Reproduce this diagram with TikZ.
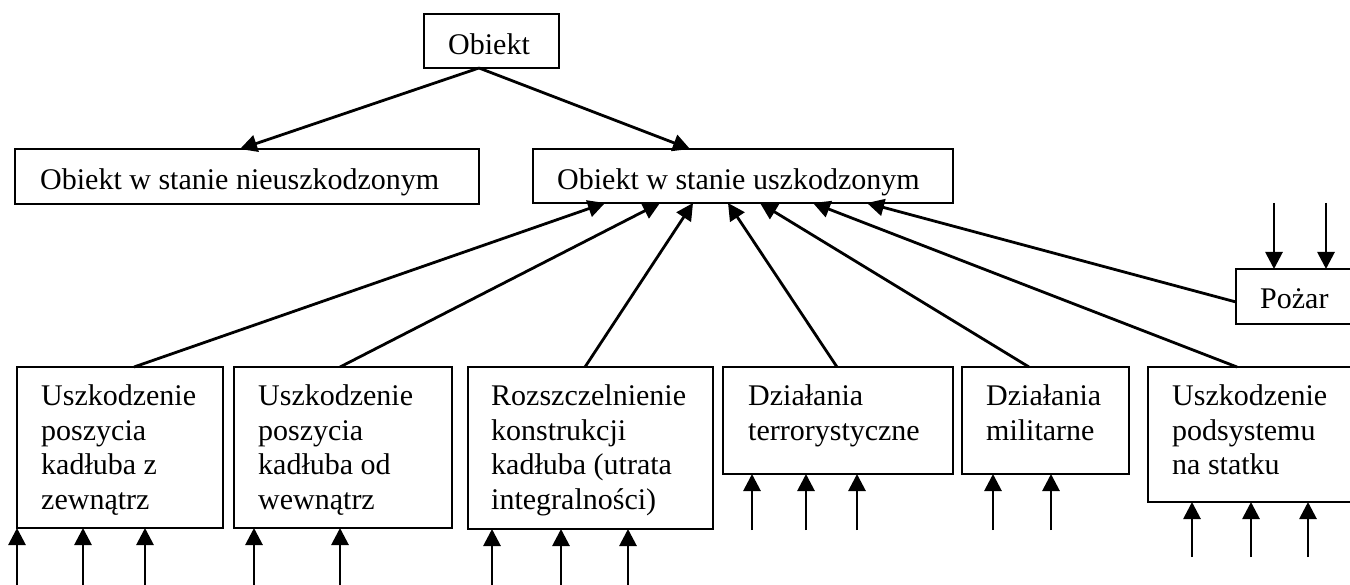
\documentclass[tikz,border=0pt]{standalone}
\usepackage{fontspec}
\setmainfont{Liberation Serif}
\usetikzlibrary{arrows.meta}
\begin{document}
\begin{tikzpicture}[x=1pt,y=-1pt,
  box/.style={draw, line width=2.5pt, rectangle, inner sep=0pt, outer sep=0pt, anchor=north west},
  lbl/.style={anchor=north west, inner sep=0pt, align=left, font=\fontsize{30}{34.5}\selectfont},
  arr/.style={line width=2.8pt, -{Triangle[length=17pt,width=17pt]}}]
\useasboundingbox (0,0) rectangle (1350,585);
\clip (0,0) rectangle (1350,585);

% top level
\node[box, minimum width=135pt, minimum height=54pt] (top) at (424,14) {};
\node[lbl] (toptxt) at ([xshift=24pt,yshift=-19pt]top.north west) {Obiekt};

% second level
\node[box, minimum width=464pt, minimum height=55pt] (nie) at (15,149) {};
\node[lbl] (nietxt) at ([xshift=25pt,yshift=-19.5pt]nie.north west) {Obiekt w stanie nieuszkodzonym};
\node[box, minimum width=420pt, minimum height=54pt] (usz) at (533,149) {};
\node[lbl] (usztxt) at ([xshift=24pt,yshift=-19.5pt]usz.north west) {Obiekt w stanie uszkodzonym};

% fire
\node[box, minimum width=140pt, minimum height=55pt] (poz) at (1236,269) {};
\node[lbl] (poztxt) at ([xshift=24pt,yshift=-19.5pt]poz.north west) {Pożar};

% causes
\node[box, minimum width=206pt, minimum height=161pt] (b1) at (17,367) {};
\node[lbl] (b1txt) at ([xshift=24pt,yshift=-17.5pt]b1.north west) {Uszkodzenie\\poszycia\\kadłuba z\\zewnątrz};
\node[box, minimum width=218pt, minimum height=161pt] (b2) at (234,367) {};
\node[lbl] (b2txt) at ([xshift=24pt,yshift=-17.5pt]b2.north west) {Uszkodzenie\\poszycia\\kadłuba od\\wewnątrz};
\node[box, minimum width=245pt, minimum height=162pt] (b3) at (468,367) {};
\node[lbl] (b3txt) at ([xshift=23pt,yshift=-17.5pt]b3.north west) {Rozszczelnienie\\konstrukcji\\kadłuba (utrata\\integralności)};
\node[box, minimum width=230pt, minimum height=107pt] (b4) at (723,367) {};
\node[lbl] (b4txt) at ([xshift=25pt,yshift=-17.5pt]b4.north west) {Działania\\terrorystyczne};
\node[box, minimum width=167pt, minimum height=107pt] (b5) at (962,367) {};
\node[lbl] (b5txt) at ([xshift=24pt,yshift=-17.5pt]b5.north west) {Działania\\militarne};
\node[box, minimum width=230pt, minimum height=135pt] (b6) at (1148,367) {};
\node[lbl] (b6txt) at ([xshift=24pt,yshift=-17.5pt]b6.north west) {Uszkodzenie\\podsystemu\\na statku};

% hierarchy
\draw[arr] ([xshift=55pt]top.south west) -- ([xshift=225pt]nie.north west);
\draw[arr] ([xshift=55pt]top.south west) -- ([xshift=157pt]usz.north west);

% causes into the damaged state
\draw[arr] ([xshift=117pt]b1.north west) -- ([xshift=72pt]usz.south west);
\draw[arr] ([xshift=106pt]b2.north west) -- ([xshift=127pt]usz.south west);
\draw[arr] ([xshift=117pt]b3.north west) -- ([xshift=160pt]usz.south west);
\draw[arr] ([xshift=114pt]b4.north west) -- ([xshift=195pt]usz.south west);
\draw[arr] ([xshift=67pt]b5.north west) -- ([xshift=227pt]usz.south west);
\draw[arr] ([xshift=89pt]b6.north west) -- ([xshift=280pt]usz.south west);
\draw[arr] ([yshift=-33pt]poz.north west) -- ([xshift=334pt]usz.south west);

% inputs to the fire node
\coordinate (pa) at (1274,203);
\coordinate (pb) at (1326,203);
\draw[arr] (pa) -- (pa |- poz.north);
\draw[arr] (pb) -- (pb |- poz.north);

% inputs to the causes
\foreach \x/\n in {17/b1, 83/b1, 145/b1, 254/b2, 340/b2, 492/b3, 561/b3, 628/b3}{
  \coordinate (in) at (\x,585);
  \draw[arr] (in) -- (in |- \n.south);
}
\foreach \x/\n in {752/b4, 806/b4, 857/b4, 993/b5, 1051/b5}{
  \coordinate (in) at (\x,530);
  \draw[arr] (in) -- (in |- \n.south);
}
\foreach \x in {1192, 1251, 1308}{
  \coordinate (in) at (\x,557);
  \draw[arr] (in) -- (in |- b6.south);
}
\end{tikzpicture}
\end{document}
